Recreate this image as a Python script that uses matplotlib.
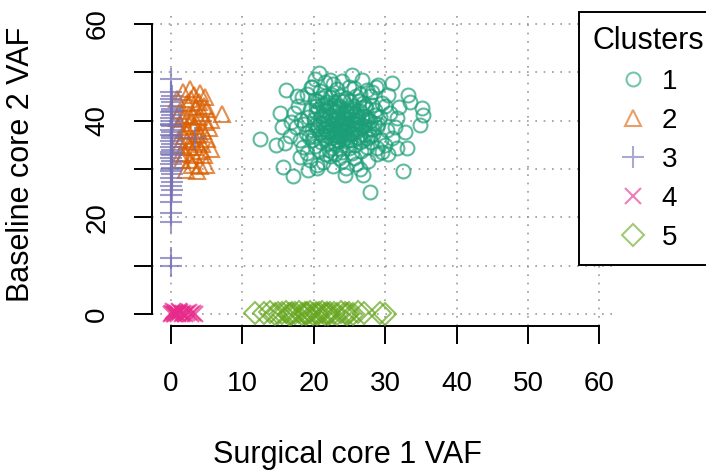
import matplotlib
matplotlib.use("Agg")
import matplotlib.pyplot as plt
from matplotlib.lines import Line2D

plt.rcParams['font.family'] = ['Liberation Sans', 'DejaVu Sans']

# Cluster 1: circles
c1_x = [20.7, 16.1, 17.6, 15.3, 15.5, 12.5, 14.7, 16.0, 16.7, 15.7, 17.1, 18.1, 19.2, 20.4, 19.7, 22.3, 20.2,
        25.3, 29.0, 30.9, 30.4, 33.2, 33.5, 35.1, 35.3, 34.9, 32.8, 31.4, 33.0, 31.6, 30.0, 28.8, 32.5, 27.9,
        26.9, 24.4, 28.8, 29.5, 28.1,
        18.2, 18.9, 19.4, 19.8, 20.1, 20.5, 20.7, 21.0, 21.2, 21.5, 21.8, 22.0, 22.3, 22.5, 22.8, 23.0, 23.2,
        23.5, 23.7, 24.0, 24.2, 24.5, 24.8, 25.0, 25.3, 25.5, 25.8, 26.0, 26.3, 26.5, 26.8, 27.0, 27.3, 27.5,
        27.8, 28.1, 28.3, 28.6, 29.0, 29.4,
        17.5, 17.8, 18.5, 19.0, 19.5, 20.0, 20.3, 20.9, 21.3, 21.6, 22.1, 22.4, 22.9, 23.3, 23.6, 23.9, 24.3,
        24.6, 24.9, 25.2, 25.6, 25.9, 26.2, 26.6, 26.9, 27.2, 27.6, 27.9, 28.4, 28.8,
        18.0, 18.6, 19.2, 19.7, 20.2, 20.6, 21.1, 21.4, 21.9, 22.2, 22.6, 22.9, 23.1, 23.4, 23.8, 24.1, 24.4,
        24.7, 25.1, 25.4, 25.7, 26.1, 26.4, 26.7, 27.1, 27.4, 27.7, 28.0, 28.5, 29.2,
        19.1, 20.4, 21.7, 22.7, 23.5, 24.5, 25.9, 26.4, 29.6, 30.2, 30.6, 31.0, 29.9, 31.6, 30.4, 31.9, 18.4,
        17.2, 16.8, 19.6, 21.6, 23.9, 25.6, 27.4, 26.8, 22.7, 20.1, 28.7,
        21.3, 22.4, 23.3, 24.2, 25.3, 22.0, 23.6, 24.8, 21.7, 26.2, 20.8, 23.0, 25.7, 24.0, 22.6, 21.0, 26.9,
        25.0, 20.3, 27.6, 19.3, 28.2, 23.8, 22.1, 24.9, 26.4, 21.5, 20.0, 27.9, 22.9, 24.4, 23.3, 25.9, 21.9,
        24.1, 26.6, 20.6, 25.5, 23.7, 22.3,
        21.8, 22.5, 23.1, 23.9, 24.6, 25.2, 22.8, 23.4, 24.3, 21.4, 20.9, 25.8, 26.5, 22.2, 23.7, 24.7, 21.1,
        25.4, 22.6, 23.2, 24.0, 26.0, 20.5, 27.2, 22.9, 24.5, 23.5, 21.6, 25.1, 26.3]
c1_y = [49.9, 46.3, 45.1, 41.6, 38.7, 36.2, 35.0, 35.4, 36.8, 30.4, 28.6, 32.5, 29.8, 30.2, 47.0, 48.4, 44.3,
        49.5, 47.4, 47.8, 45.3, 45.3, 43.9, 42.6, 41.2, 39.1, 37.7, 38.7, 34.3, 34.3, 35.0, 34.3, 29.6, 25.2,
        28.8, 28.8, 38.7, 43.7, 45.9,
        40.1, 37.5, 42.3, 35.9, 39.2, 44.1, 33.8, 41.0, 37.1, 43.5, 35.2, 39.8, 32.6, 45.3, 38.4, 41.9, 36.0,
        43.0, 34.1, 40.5, 38.0, 44.6, 36.7, 42.2, 33.3, 39.5, 41.4, 37.8, 44.0, 35.5, 40.8, 38.9, 42.7, 36.4,
        40.0, 43.3, 37.2, 41.2, 39.3, 36.1,
        38.6, 43.0, 34.5, 45.5, 31.8, 36.8, 41.8, 46.2, 31.5, 38.3, 42.8, 36.5, 33.0, 46.5, 39.0, 31.6, 42.0,
        35.0, 47.0, 37.5, 32.2, 45.2, 39.9, 33.8, 43.6, 37.0, 31.7, 45.0, 39.6, 33.0,
        36.0, 39.3, 40.8, 38.0, 34.8, 38.8, 43.2, 40.3, 37.6, 40.9, 34.3, 43.8, 38.6, 40.2, 37.3, 44.0, 39.6,
        41.5, 36.1, 40.9, 38.2, 42.0, 37.0, 39.0, 41.0, 34.6, 38.3, 35.5, 42.2, 40.8,
        33.4, 30.8, 33.2, 30.6, 32.3, 30.2, 31.0, 30.0, 33.6, 38.1, 41.5, 36.4, 43.0, 40.6, 33.2, 42.8, 44.8,
        41.5, 39.8, 47.0, 48.0, 48.2, 46.8, 46.3, 48.4, 47.5, 48.6, 47.0,
        39.5, 38.0, 40.7, 36.3, 38.5, 36.9, 42.6, 39.2, 41.9, 41.0, 37.4, 35.3, 35.0, 33.6, 42.3, 35.6, 36.1,
        44.0, 43.0, 40.4, 36.6, 38.2, 45.2, 34.0, 34.3, 45.5, 45.0, 40.4, 36.8, 37.0, 37.7, 39.3, 40.1, 43.9,
        41.3, 38.4, 42.5, 43.1, 36.8, 44.8,
        38.9, 40.6, 37.7, 39.8, 41.8, 37.2, 43.2, 35.8, 38.3, 41.1, 39.6, 39.3, 41.9, 37.6, 38.1, 40.3, 44.6,
        42.6, 39.0, 42.1, 36.9, 36.6, 38.2, 43.0, 40.1, 35.8, 44.3, 36.3, 41.7, 39.6]

# Cluster 2: triangles
c2_x = [0.8, 1.2, 1.5, 1.0, 1.8, 1.3, 2.0, 1.6, 2.2, 2.5, 2.8, 2.4, 3.0, 2.6, 3.2, 2.9, 3.2, 3.5, 3.8, 3.4,
        4.0, 3.7, 4.2, 4.1, 4.6, 4.4, 4.8, 4.5, 5.0, 4.9, 4.1, 5.6, 5.3, 5.1, 4.8, 5.6, 7.1, 1.7, 2.7, 2.1,
        3.6, 1.9, 3.1, 2.3, 3.9, 1.4, 2.8, 3.3, 4.3, 0.9, 2.0, 3.6, 2.6, 1.1, 4.6]
c2_y = [44.5, 42.0, 40.3, 38.6, 36.9, 35.0, 33.4, 31.8, 43.6, 41.2, 39.5, 37.8, 36.2, 34.6, 32.9, 30.9, 45.3,
        42.8, 40.8, 38.9, 37.3, 35.6, 33.8, 45.7, 43.0, 41.6, 39.7, 37.9, 36.2, 30.8, 30.6, 34.2, 38.4, 42.5,
        44.9, 40.2, 41.3, 46.0, 46.5, 29.8, 29.5, 38.0, 41.0, 35.8, 43.9, 33.0, 44.4, 34.5, 35.2, 40.5, 40.9,
        37.0, 31.9, 36.3, 32.8]

# Cluster 3: plus signs
c3_x = [0.0, 0.0, 0.1, 0.0, 0.2, 0.0, 0.1, 0.0, 0.2, 0.0, 0.1, 0.0, 0.2, 0.0, 0.1, 0.0, 0.2, 0.0, 0.1, 0.0,
        0.2, 0.0, 0.1, 0.0, 0.2, 0.0, 0.1, 0.0, 0.2, 0.0, 0.1, 0.0, 0.1, 0.0, 0.0, 0.0, 0.0, 0.0, 0.0, 3.4,
        0.1, 0.0, 0.2, 0.0, 0.1]
c3_y = [48.6, 46.0, 45.2, 44.5, 43.8, 43.1, 42.5, 41.8, 41.2, 40.6, 40.0, 39.4, 38.8, 38.1, 37.6, 37.0, 36.4,
        35.8, 35.2, 34.6, 34.0, 33.5, 32.9, 32.2, 31.6, 31.0, 30.3, 29.6, 28.9, 28.1, 27.3, 26.5, 25.6, 24.6,
        23.2, 21.0, 19.1, 11.6, 10.0, 36.4, 42.0, 39.0, 36.8, 33.0, 30.0]

# Cluster 4: crosses
c4_x = [0.0, 0.2, 0.4, 0.6, 0.8, 1.0, 1.2, 1.5, 1.7, 2.0, 2.2, 2.5, 2.8, 3.1, 3.4, 0.3, 1.1, 0.5]
c4_y = [0.0, 0.3, 0.1, 0.5, 0.2, 0.0, 0.4, 0.1, 0.3, 0.0, 0.2, 0.4, 0.1, 0.2, 0.1, 0.6, 0.7, -0.1]

# Cluster 5: diamonds
c5_x = [11.8, 13.0, 13.8, 14.5, 15.0, 15.6, 16.1, 16.5, 17.0, 17.4, 17.9, 18.3, 18.7, 19.1, 19.5, 19.9,
        20.3, 20.7, 21.1, 21.5, 21.9, 22.3, 22.8, 23.3, 23.8, 24.3, 24.9, 25.5, 26.2, 27.0, 29.3, 30.0,
        16.8, 18.9, 20.5, 22.0, 24.6]
c5_y = [0.3, 0.2, 0.4, 0.1, 0.3, 0.2, 0.4, 0.1, 0.3, 0.2, 0.5, 0.1, 0.3, 0.2, 0.4, 0.1, 0.3, 0.2, 0.4,
        0.1, 0.3, 0.2, 0.3, 0.1, 0.4, 0.2, 0.3, 0.1, 0.5, 0.3, 0.2, 0.1, 0.0, 0.0, 0.0, 0.0, 0.0]

cluster_names = ['1', '2', '3', '4', '5']
cluster_colors = ['#1B9E77', '#D95F02', '#7570B3', '#E7298A', '#66A61E']
cluster_markers = ['o', '^', '+', 'x', 'D']
marker_sizes = [10, 12, 16, 11.5, 11]
xs = [c1_x, c2_x, c3_x, c4_x, c5_x]
ys = [c1_y, c2_y, c3_y, c4_y, c5_y]

W, H = 706, 476
fig = plt.figure(figsize=(W / 100, H / 100), dpi=100)
ax = fig.add_axes([152 / W, 1 - 325.6 / H, (616.6 - 152) / W, (325.6 - 12.4) / H])

handles = []
for x, y, col, m, ms in zip(xs, ys, cluster_colors, cluster_markers, marker_sizes):
    if m in ('+', 'x'):
        kw = dict(color=col)
    else:
        kw = dict(markerfacecolor='none', markeredgecolor=col)
    ax.plot(x, y, linestyle='none', marker=m, markersize=ms, markeredgewidth=1.5,
            alpha=0.7, zorder=3, **kw)
    handles.append(Line2D([], [], linestyle='none', marker=m, markersize=ms,
                          markeredgewidth=1.5, alpha=0.6, **kw))

ax.set_xlim(-2.66, 62.4)
ax.set_ylim(-2.4, 62.4)
ticks = list(range(0, 61, 10))
ax.set_xticks(ticks)
ax.set_yticks(ticks)
ax.set_yticklabels([str(t) if t % 20 == 0 else '' for t in ticks])

ax.grid(True, color='#999999', linestyle=(0, (1, 4)), linewidth=1.2, zorder=0)
for s in ['top', 'right']:
    ax.spines[s].set_visible(False)
for s in ['left', 'bottom']:
    ax.spines[s].set_bounds(0, 60)
    ax.spines[s].set_linewidth(1.4)

ax.tick_params(axis='both', length=13, width=1.4, labelsize=20)
ax.tick_params(axis='x', pad=20)
ax.tick_params(axis='y', pad=17, labelrotation=90)
for lab in ax.get_yticklabels():
    lab.set_va('center')

ax.set_xlabel('Surgical core 1 VAF', fontsize=22)
ax.xaxis.set_label_coords(0.42, -0.413)
ax.xaxis.label.set_va('center')
ax.set_ylabel('Baseline core 2 VAF', fontsize=22)
ax.yaxis.set_label_coords(-0.282, 0.516)
ax.yaxis.label.set_va('center')

leg = fig.legend(handles, cluster_names, title='Clusters', loc='upper left',
                 bbox_to_anchor=(579 / W, 1 - 12 / H), borderaxespad=0, fontsize=20,
                 title_fontsize=22, frameon=True, fancybox=False, edgecolor='black',
                 framealpha=1, borderpad=0.5, handlelength=0.94, handletextpad=0.54,
                 labelspacing=0.47)
leg.get_frame().set_linewidth(1.4)

fig.savefig('out.png', dpi=100)
